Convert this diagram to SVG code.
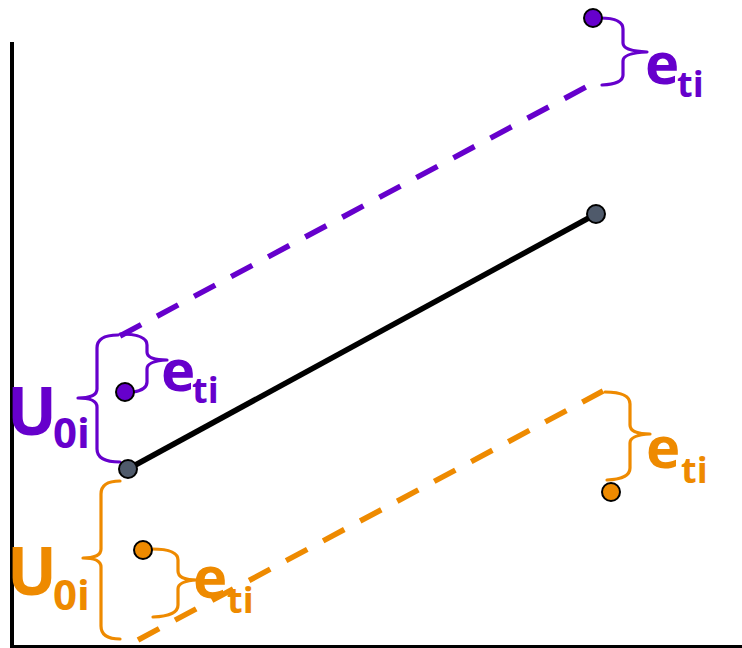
<svg xmlns="http://www.w3.org/2000/svg" width="742" height="648" viewBox="0 0 742 648">
<style>
.axis{stroke:#000;fill:none}
.dash{fill:none;stroke-width:5.5;stroke-dasharray:24 18;stroke-linecap:butt}
.brace{fill:none;stroke-width:3.2;stroke-linecap:round;stroke-linejoin:round}
.p{stroke:#6600cc}
.o{stroke:#ee8a00}
.dot{stroke:#000;stroke-width:2}
.pf{fill:#6600cc}
.of{fill:#ee8a00}
.gf{fill:#4f5a6b}
text{font-family:"Open Sans","DejaVu Sans",sans-serif;font-weight:bold}
.big{font-size:66px}
.sub{font-size:42px}
.e{font-size:58px}
.esub{font-size:36px}
</style>
<g id="axes">
<line class="axis" x1="12" y1="42" x2="12" y2="647" stroke-width="4"/>
<line class="axis" x1="10" y1="646.5" x2="742" y2="646.5" stroke-width="3"/>
</g>
<g id="connectors">
<line class="dash p" x1="120" y1="336" x2="586" y2="87"/>
<line class="dash o" x1="138" y1="640" x2="603" y2="391"/>
<line x1="128" y1="469" x2="596" y2="214" stroke="#000" stroke-width="5.5"/>
<path class="brace p" d="M118,335 Q97,335 97,348 L97,389 Q97,398 78,398 Q97,398 97,407 L97,449 Q97,462 120,462"/>
<path class="brace p" d="M120,334 Q147,334 147,345 L147,352 Q147,360 167,360 Q147,361 147,369 L147,382 Q147,390 133,392"/>
<path class="brace p" d="M600,18 Q623,18 623,29 L623,43 Q623,51 647,52 Q623,53 623,61 L623,75 Q623,84 602,85"/>
<path class="brace o" d="M120,481 Q101,481 101,494 L101,549 Q101,558 83,558 Q101,558 101,567 L101,626 Q101,639 120,639"/>
<path class="brace o" d="M152,549 Q178,549 178,560 L178,571 Q178,580 197,580 Q178,581 178,589 L178,605 Q178,616 153,617"/>
<path class="brace o" d="M605,392 Q630,392 630,404 L630,425 Q630,434 650,434 Q630,435 630,443 L630,468 Q630,479 607,480"/>
</g>
<g id="dot-gray-1"><circle class="dot gf" cx="128" cy="469" r="9"/></g>
<g id="dot-gray-2"><circle class="dot gf" cx="596" cy="214" r="9"/></g>
<g id="dot-purple-1"><circle class="dot pf" cx="125" cy="392" r="9"/></g>
<g id="dot-purple-2"><circle class="dot pf" cx="593" cy="18" r="9"/></g>
<g id="dot-orange-1"><circle class="dot of" cx="143" cy="550" r="9"/></g>
<g id="dot-orange-2"><circle class="dot of" cx="611" cy="492" r="9"/></g>
<g id="label-u-purple"><text class="pf"><tspan class="big" x="7" y="435">U</tspan><tspan class="sub" x="53" y="448">0i</tspan></text></g>
<g id="label-e-purple-1"><text class="pf"><tspan class="e" x="161" y="391">e</tspan><tspan class="esub" x="192" y="403">ti</tspan></text></g>
<g id="label-e-purple-2"><text class="pf"><tspan class="e" x="645" y="84">e</tspan><tspan class="esub" x="677" y="97">ti</tspan></text></g>
<g id="label-u-orange"><text class="of"><tspan class="big" x="7" y="595">U</tspan><tspan class="sub" x="53" y="610">0i</tspan></text></g>
<g id="label-e-orange-1"><text class="of"><tspan class="e" x="193" y="598">e</tspan><tspan class="esub" x="227" y="613">ti</tspan></text></g>
<g id="label-e-orange-2"><text class="of"><tspan class="e" x="646" y="468">e</tspan><tspan class="esub" x="681" y="483">ti</tspan></text></g>
</svg>
